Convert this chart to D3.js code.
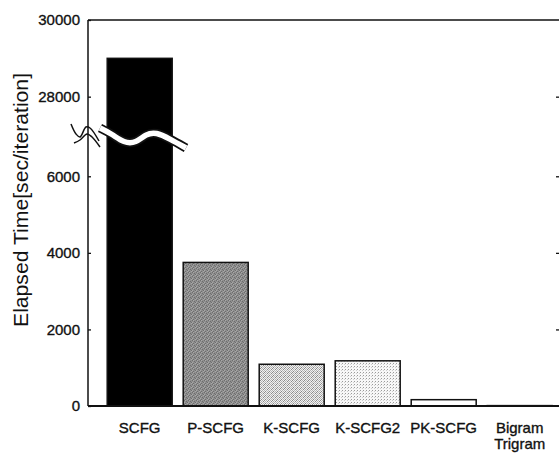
<!DOCTYPE html>
<html><head><meta charset="utf-8">
<script src="https://cdn.jsdelivr.net/npm/d3@7"></script>
<style>body{margin:0;background:#fff}svg text{font-family:"Liberation Sans",Arial,Helvetica,sans-serif;fill:#111}</style>
</head><body><svg id="c" width="559" height="453"></svg>
<script>
const categories = ["SCFG", "P-SCFG", "K-SCFG", "K-SCFG2", "PK-SCFG", "Bigram\nTrigram"];
const values = [29000, 3750, 1090, 1180, 165, 10];
const leftTicks = [0, 2000, 4000, 6000, 28000, 30000];
const rightTicks = [2000, 4000, 6000, 28000];
const yTitle = "Elapsed Time[sec/iteration]";

const svg = d3.select("#c");
const W = 559, H = 453;
const mLeft = 88, mTop = 20, mBottom = 406, mRight = 560;

// broken y axis: piecewise linear scale
const y = d3.scaleLinear().domain([0, 7000, 27000, 30000]).range([mBottom, 138, 135, mTop]);
const x = d3.scaleBand().domain(categories).range([101.7, 557.7]).paddingInner(0.145).paddingOuter(0.0725);

// patterns
const defs = svg.append("defs");
const p1 = defs.append("pattern").attr("id", "pk").attr("width", 4).attr("height", 4).attr("patternUnits", "userSpaceOnUse");
p1.append("rect").attr("width", 4).attr("height", 4).attr("fill", "#f2f2f2");
[[0,0],[2,0],[1,1],[3,1],[0,2],[2,2],[1,3],[3,3]].forEach(([a,b],i)=>p1.append("rect").attr("x",a).attr("y",b).attr("width",1).attr("height",1).attr("fill", i%3===0?"#8a8a8a":"#b4b4b4"));
const p2 = defs.append("pattern").attr("id", "pk2").attr("width", 3).attr("height", 3).attr("patternUnits", "userSpaceOnUse");
p2.append("rect").attr("width", 3).attr("height", 3).attr("fill", "#f7f7f7");
p2.append("rect").attr("x", 0).attr("y", 0).attr("width", 1).attr("height", 1).attr("fill", "#9a9a9a");
p2.append("rect").attr("x", 2).attr("y", 1).attr("width", 1).attr("height", 1).attr("fill", "#cfcfcf");
const p3 = defs.append("pattern").attr("id", "pg").attr("width", 4).attr("height", 4).attr("patternUnits", "userSpaceOnUse");
p3.append("rect").attr("width", 4).attr("height", 4).attr("fill", "#8e8e8e");
[[0,0],[2,1],[1,3],[3,2]].forEach(([a,b])=>p3.append("rect").attr("x",a).attr("y",b).attr("width",1).attr("height",1).attr("fill","#6e6e6e"));
[[1,0],[3,3],[0,2]].forEach(([a,b])=>p3.append("rect").attr("x",a).attr("y",b).attr("width",1).attr("height",1).attr("fill","#a8a8a8"));

const fillFor = i => ["#000", "url(#pg)", "url(#pk)", "url(#pk2)", "#fff", "#fff"][i];

// bars
svg.append("g").selectAll("rect").data(values).join("rect")
  .attr("x", (d, i) => x(categories[i]))
  .attr("width", x.bandwidth())
  .attr("y", d => y(d))
  .attr("height", d => y(0) - y(d))
  .attr("fill", (d, i) => fillFor(i))
  .attr("stroke", "#111").attr("stroke-width", 1.5);

// frame lines
svg.append("line").attr("x1", mLeft).attr("x2", W).attr("y1", mTop).attr("y2", mTop).attr("stroke", "#111").attr("stroke-width", 1.3);
svg.append("line").attr("x1", mLeft).attr("x2", mLeft).attr("y1", mTop).attr("y2", mBottom).attr("stroke", "#111").attr("stroke-width", 1.5);
svg.append("line").attr("x1", mLeft).attr("x2", W).attr("y1", mBottom).attr("y2", mBottom).attr("stroke", "#111").attr("stroke-width", 2);

// left axis
const ax = svg.append("g").attr("transform", `translate(${mLeft},0)`)
  .call(d3.axisLeft(y).tickValues(leftTicks).tickSizeInner(-3).tickSizeOuter(0).tickPadding(8).tickFormat(d3.format("d")));
ax.select(".domain").remove();
ax.selectAll("line").attr("stroke", "#111").attr("stroke-width", 1.3);
ax.selectAll("text").style("font-size", "15px").style("font-family", "'Liberation Sans',Arial,sans-serif").attr("fill", "#111")
  .attr("stroke", "#111").attr("stroke-width", 0.35);

// right axis ticks (line itself off canvas)
const ax2 = svg.append("g").attr("transform", `translate(${mRight},0)`)
  .call(d3.axisRight(y).tickValues(rightTicks).tickSizeInner(-4).tickSizeOuter(0).tickFormat(""));
ax2.select(".domain").remove();
ax2.selectAll("line").attr("stroke", "#111").attr("stroke-width", 1.3);

// break on bar
const wave = d3.line().curve(d3.curveBasis);
const wpts = [[100,128],[112,134],[124,143],[136,143],[146,134],[156,132],[170,139],[186,148]];
svg.append("path").attr("d", wave(wpts)).attr("fill", "none").attr("stroke", "#111").attr("stroke-width", 9);
svg.append("path").attr("d", wave(wpts)).attr("fill", "none").attr("stroke", "#fff").attr("stroke-width", 5.5);

// break on axis
const b1 = [[71,124],[76,134],[80,137],[86,127],[90,128],[99,141]];
const b2 = [[74,143],[80,140],[87,134],[92,137],[100,147]];
[b1, b2].forEach(p => svg.append("path").attr("d", d3.line().curve(d3.curveCatmullRom)(p)).attr("fill", "none").attr("stroke", "#111").attr("stroke-width", 1.5));

// category labels
const lab = svg.append("g").selectAll("text").data(categories).join("text")
  .attr("text-anchor", "middle")
  .style("font-size", "15px")
  .attr("stroke", "#111").attr("stroke-width", 0.35);
lab.each(function(d, i) {
  const t = d3.select(this);
  d.split("\n").forEach((s, j) => t.append("tspan").attr("x", x(d) + x.bandwidth() / 2).attr("y", 433 + j * 16).text(s));
});

// y title
svg.append("text").attr("transform", "translate(28,200) rotate(-90)").attr("text-anchor", "middle")
  .attr("textLength", 254).attr("lengthAdjust", "spacingAndGlyphs")
  .style("font-size", "20.5px").text(yTitle);
</script></body></html>
